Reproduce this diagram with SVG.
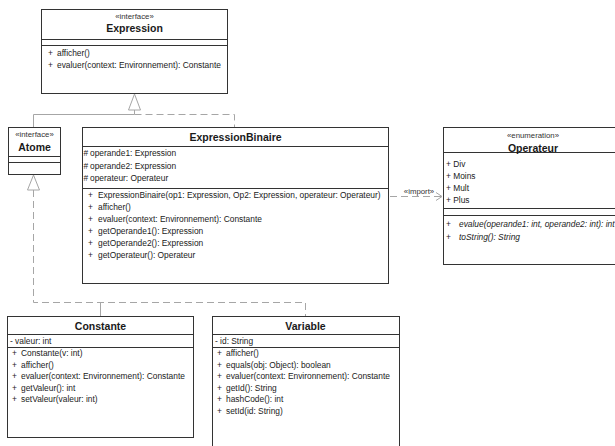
<svg xmlns="http://www.w3.org/2000/svg" width="615" height="446" viewBox="0 0 615 446">
  <style>
    text { font-family: "Liberation Sans", Arial, sans-serif; fill: #1a1a1a; }
    .box { fill: #ffffff; stroke: #333333; stroke-width: 1; }
    .sep { stroke: #333333; stroke-width: 1; }
    .st { font-size: 7.8px; text-anchor: middle; fill: #333333; }
    .title { font-size: 10.5px; font-weight: bold; text-anchor: middle; }
    .m { font-size: 8.4px; }
    .it { font-style: italic; }
    .con { fill: none; stroke: #a6a6a6; stroke-width: 1; }
    .dash { stroke-dasharray: 7 4; }
    .tri { fill: #ffffff; stroke: #a6a6a6; stroke-width: 1; }
  </style>
  <rect width="615" height="446" fill="#ffffff"/>

  <!-- connectors -->
  <g id="connectors">
    <!-- Atome -> Expression (generalization) -->
    <polyline class="con" points="33.5,127 33.5,114.5 134.5,114.5 134.5,110"/>
    <!-- ExpressionBinaire -> Expression (realization) -->
    <polyline class="con dash" points="134.5,114.5 234.5,114.5 234.5,127"/>
    <polygon class="tri" points="134.5,94 128.5,110 140.5,110"/>
    <!-- Constante / Variable -> Atome (realization) -->
    <polyline class="con dash" points="33.5,190 33.5,302.5 305.5,302.5 305.5,316"/>
    <line class="con" x1="100.5" y1="302.5" x2="100.5" y2="316"/>
    <polygon class="tri" points="33.5,175 27.5,190 39.5,190"/>
    <!-- ExpressionBinaire -> Operateur (import) -->
    <line class="con dash" x1="390" y1="196.5" x2="442" y2="196.5"/>
    <polyline class="con" points="436,192.5 442,196.5 436,200.5"/>
    <text class="st" x="419" y="193.5">«import»</text>
  </g>

  <g id="Expression">
    <rect class="box" x="41.5" y="9.5" width="186" height="84"/>
    <line class="sep" x1="41.5" y1="39.5" x2="227.5" y2="39.5"/>
    <line class="sep" x1="41.5" y1="45.5" x2="227.5" y2="45.5"/>
    <text class="st" x="134.5" y="18.5">«interface»</text>
    <text class="title" x="134.5" y="32">Expression</text>
    <text class="m" x="48" y="56">+ <tspan x="57">afficher()</tspan></text>
    <text class="m" x="48" y="67.5">+ <tspan x="57">evaluer(context: Environnement): Constante</tspan></text>
  </g>

  <g id="Atome">
    <rect class="box" x="8.5" y="127.5" width="52" height="47"/>
    <line class="sep" x1="8.5" y1="156.5" x2="60.5" y2="156.5"/>
    <line class="sep" x1="8.5" y1="162.5" x2="60.5" y2="162.5"/>
    <text class="st" x="34.5" y="137">«interface»</text>
    <text class="title" x="34.5" y="151">Atome</text>
  </g>

  <g id="ExpressionBinaire">
    <rect class="box" x="82.5" y="127.5" width="306" height="156"/>
    <line class="sep" x1="82.5" y1="146.5" x2="388.5" y2="146.5"/>
    <line class="sep" x1="82.5" y1="188.5" x2="388.5" y2="188.5"/>
    <text class="title" x="235.5" y="141">ExpressionBinaire</text>
    <text class="m" x="83.5" y="156">#<tspan x="90">operande1: Expression</tspan></text>
    <text class="m" x="83.5" y="168.5">#<tspan x="90">operande2: Expression</tspan></text>
    <text class="m" x="83.5" y="181">#<tspan x="90">operateur: Operateur</tspan></text>
    <text class="m" x="88" y="197.5">+ <tspan x="98">ExpressionBinaire(op1: Expression, Op2: Expression, operateur: Operateur)</tspan></text>
    <text class="m" x="88" y="209.5">+ <tspan x="98">afficher()</tspan></text>
    <text class="m" x="88" y="221.5">+ <tspan x="98">evaluer(context: Environnement): Constante</tspan></text>
    <text class="m" x="88" y="233.5">+ <tspan x="98">getOperande1(): Expression</tspan></text>
    <text class="m" x="88" y="245.5">+ <tspan x="98">getOperande2(): Expression</tspan></text>
    <text class="m" x="88" y="257.5">+ <tspan x="98">getOperateur(): Operateur</tspan></text>
  </g>

  <g id="Operateur">
    <rect class="box" x="443.5" y="127.5" width="180" height="137"/>
    <line class="sep" x1="443.5" y1="152.5" x2="623.5" y2="152.5"/>
    <line class="sep" x1="443.5" y1="208.5" x2="623.5" y2="208.5"/>
    <line class="sep" x1="443.5" y1="215.5" x2="623.5" y2="215.5"/>
    <text class="st" x="533" y="138">«enumeration»</text>
    <text class="title" x="533" y="152">Operateur</text>
    <text class="m" x="446" y="167">+ Div</text>
    <text class="m" x="446" y="179">+ Moins</text>
    <text class="m" x="446" y="191">+ Mult</text>
    <text class="m" x="446" y="203">+ Plus</text>
    <text class="m" x="446" y="227">+ <tspan x="459" class="it">evalue(operande1: int, operande2: int): int</tspan></text>
    <text class="m" x="446" y="240">+ <tspan x="459" class="it">toString(): String</tspan></text>
  </g>

  <g id="Constante">
    <rect class="box" x="7.5" y="316.5" width="186" height="121"/>
    <line class="sep" x1="7.5" y1="334.5" x2="193.5" y2="334.5"/>
    <line class="sep" x1="7.5" y1="347.5" x2="193.5" y2="347.5"/>
    <text class="title" x="100.5" y="329.5">Constante</text>
    <text class="m" x="10" y="344">- valeur: int</text>
    <text class="m" x="12" y="356">+ <tspan x="21">Constante(v: int)</tspan></text>
    <text class="m" x="12" y="367.5">+ <tspan x="21">afficher()</tspan></text>
    <text class="m" x="12" y="379">+ <tspan x="21">evaluer(context: Environnement): Constante</tspan></text>
    <text class="m" x="12" y="390.5">+ <tspan x="21">getValeur(): int</tspan></text>
    <text class="m" x="12" y="402">+ <tspan x="21">setValeur(valeur: int)</tspan></text>
  </g>

  <g id="Variable">
    <rect class="box" x="212.5" y="316.5" width="187" height="140"/>
    <line class="sep" x1="212.5" y1="334.5" x2="399.5" y2="334.5"/>
    <line class="sep" x1="212.5" y1="347.5" x2="399.5" y2="347.5"/>
    <text class="title" x="305.5" y="329.5">Variable</text>
    <text class="m" x="215" y="344">- id: String</text>
    <text class="m" x="217" y="356">+ <tspan x="226">afficher()</tspan></text>
    <text class="m" x="217" y="367.5">+ <tspan x="226">equals(obj: Object): boolean</tspan></text>
    <text class="m" x="217" y="379">+ <tspan x="226">evaluer(context: Environnement): Constante</tspan></text>
    <text class="m" x="217" y="390.5">+ <tspan x="226">getId(): String</tspan></text>
    <text class="m" x="217" y="402">+ <tspan x="226">hashCode(): int</tspan></text>
    <text class="m" x="217" y="413.5">+ <tspan x="226">setId(id: String)</tspan></text>
  </g>
</svg>
